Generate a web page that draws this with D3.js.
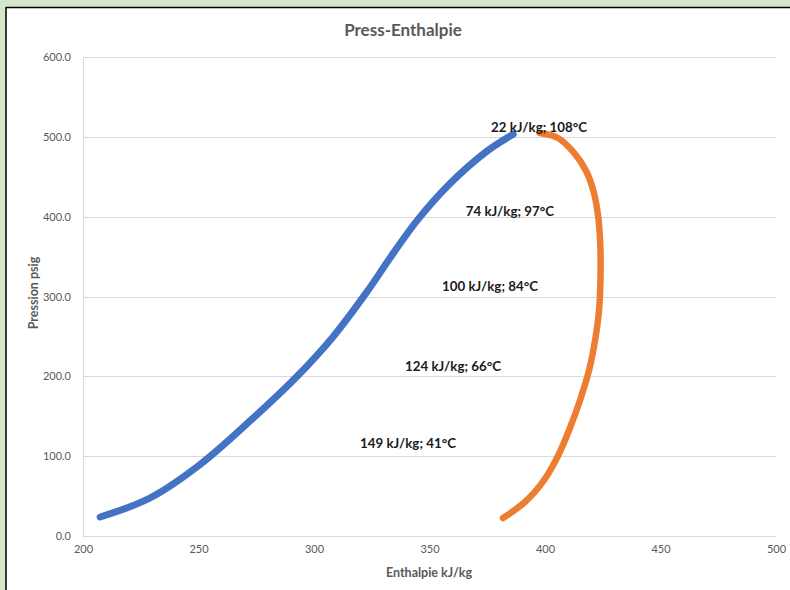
<!DOCTYPE html>
<html>
<head>
<meta charset="utf-8">
<script src="https://cdn.jsdelivr.net/npm/d3@7"></script>
<style>
  html, body { margin: 0; padding: 0; background: #d4e7c8; }
  svg { display: block; }
</style>
</head>
<body>
<svg id="chart" width="790" height="590"></svg>
<script>
// ---- data ----
const liquidH = [207.4, 229.0, 250.7, 272.3, 292.6, 308.2, 322.9, 333.8, 344.6, 358.9, 374.9, 386.2];
const liquidP = [23.8, 47.6, 89.6, 144.1, 199.8, 249.4, 305.8, 352.0, 395.1, 441.5, 482.1, 503.3];
const vaporH = [397.8, 405.6, 412.6, 417.8, 421.2, 423.2, 424.0, 424.0, 423.4, 421.7, 419.1, 415.2, 410.8, 405.6, 399.6, 391.3, 381.8];
const vaporP = [504.8, 498.5, 479.8, 457.2, 429.7, 395.8, 358.3, 320.7, 283.1, 245.5, 207.9, 170.4, 135.3, 100.2, 70.1, 42.6, 22.5];
const labelText = ["22 kJ/kg; 108°C", "74 kJ/kg; 97°C", "100 kJ/kg; 84°C", "124 kJ/kg; 66°C", "149 kJ/kg; 41°C"];
const labelH = [397.4, 384.8, 376.2, 360.2, 340.7];
const labelP = [512.5, 407, 313, 213, 116.5];
const xTicks = [200, 250, 300, 350, 400, 450, 500];
const yTicks = [0, 100, 200, 300, 400, 500, 600];
const chartTitle = "Press-Enthalpie";
const xTitle = "Enthalpie kJ/kg";
const yTitle = "Pression psig";

// ---- layout ----
const svg = d3.select("#chart");
const W = 790, H = 590;
const plot = { left: 83, right: 776, top: 57, bottom: 536 };
const font = "Lato, 'Open Sans', sans-serif";

svg.append("rect").attr("x", 0).attr("y", 0).attr("width", W).attr("height", H).attr("fill", "#d4e7c8");
svg.append("rect").attr("x", 7).attr("y", 8).attr("width", W - 7).attr("height", H - 8).attr("fill", "#ffffff");
svg.append("line").attr("x1", 6).attr("x2", 6).attr("y1", 7).attr("y2", H).attr("stroke", "#000").attr("stroke-width", 1.5);
svg.append("line").attr("x1", 6).attr("x2", W).attr("y1", 7.5).attr("y2", 7.5).attr("stroke", "#000").attr("stroke-width", 1.5);

const x = d3.scaleLinear().domain([200, 500]).range([plot.left, plot.right]);
const y = d3.scaleLinear().domain([0, 600]).range([plot.bottom, plot.top]);

// gridlines
svg.append("g").selectAll("line").data(yTicks).join("line")
  .attr("x1", plot.left).attr("x2", plot.right)
  .attr("y1", d => Math.round(y(d)) + 0.5).attr("y2", d => Math.round(y(d)) + 0.5)
  .attr("stroke", "#d9d9d9").attr("stroke-width", 1);
svg.append("line").attr("x1", plot.left + 0.5).attr("x2", plot.left + 0.5)
  .attr("y1", plot.top).attr("y2", plot.bottom).attr("stroke", "#d9d9d9");

// y axis
const yAxis = d3.axisLeft(y).tickValues(yTicks).tickFormat(d3.format(".1f")).tickSize(0).tickPadding(12);
const gy = svg.append("g").attr("transform", `translate(${plot.left},0)`).call(yAxis);
gy.select(".domain").remove();
gy.selectAll("text").attr("fill", "#595959").style("font-family", font).style("font-size", "11px");

// x axis
const xAxis = d3.axisBottom(x).tickValues(xTicks).tickFormat(d3.format("d")).tickSize(0).tickPadding(9);
const gx = svg.append("g").attr("transform", `translate(0,${plot.bottom})`).call(xAxis);
gx.select(".domain").remove();
gx.selectAll("text").attr("fill", "#595959").style("font-family", font).style("font-size", "11px");

// curves
const line = d3.line().x(d => x(d[0])).y(d => y(d[1])).curve(d3.curveCatmullRom.alpha(0.5));
svg.append("path").datum(liquidH.map((h, i) => [h, liquidP[i]]))
  .attr("d", line).attr("fill", "none").attr("stroke", "#4472c4")
  .attr("stroke-width", 7).attr("stroke-linecap", "round").attr("stroke-linejoin", "round");
svg.append("path").datum(vaporH.map((h, i) => [h, vaporP[i]]))
  .attr("d", line).attr("fill", "none").attr("stroke", "#ed7d31")
  .attr("stroke-width", 6.5).attr("stroke-linecap", "round").attr("stroke-linejoin", "round");

// data labels
svg.append("g").selectAll("text").data(labelText).join("text")
  .attr("x", (d, i) => x(labelH[i])).attr("y", (d, i) => y(labelP[i]))
  .attr("dy", "0.35em").attr("text-anchor", "middle")
  .style("font-family", font).style("font-size", "13.3px").style("font-weight", "bold")
  .attr("fill", "#1a1a1a").text(d => d);

// titles
svg.append("text").attr("x", 403).attr("y", 30).attr("dy", "0.35em").attr("text-anchor", "middle")
  .style("font-family", font).style("font-size", "17px").style("font-weight", "bold")
  .attr("fill", "#595959").text(chartTitle);
svg.append("text").attr("x", 429).attr("y", 573).attr("dy", "0.35em").attr("text-anchor", "middle")
  .style("font-family", font).style("font-size", "12.5px").style("font-weight", "bold")
  .attr("fill", "#595959").text(xTitle);
svg.append("text").attr("transform", "translate(34,293) rotate(-90)").attr("dy", "0.35em").attr("text-anchor", "middle")
  .style("font-family", font).style("font-size", "12.5px").style("font-weight", "bold")
  .attr("fill", "#595959").text(yTitle);
</script>
</body>
</html>
